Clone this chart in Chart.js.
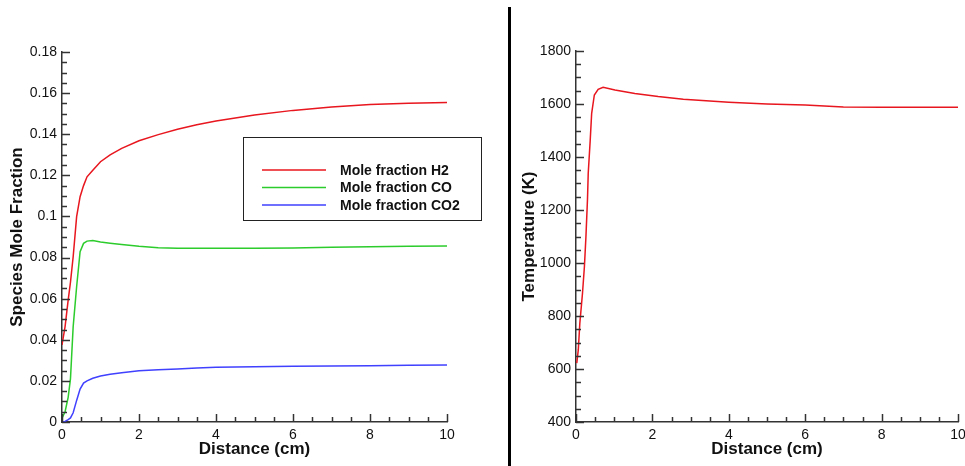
<!DOCTYPE html>
<html>
<head>
<meta charset="utf-8">
<script src="https://cdn.jsdelivr.net/npm/chart.js@4.4.0/dist/chart.umd.min.js"></script>
<style>
  html, body { margin: 0; padding: 0; background: #fff; width: 965px; height: 466px; overflow: hidden; position: relative; }
  .panel { position: absolute; top: 0; height: 466px; }
  #left { left: 0; width: 505px; }
  #right { left: 512px; width: 470px; }
  #sep { position: absolute; left: 508px; top: 7px; width: 3px; height: 459px; background: #000; }
</style>
</head>
<body>
<div class="panel" id="left"><canvas id="species"></canvas></div>
<div id="sep"></div>
<div class="panel" id="right"><canvas id="temperature"></canvas></div>
<script>
// species profiles along the reactor (distance in cm)
var distance = [0, 0.08, 0.16, 0.22, 0.29, 0.38, 0.47, 0.56, 0.65, 0.8, 1.0, 1.25, 1.55, 2.0, 2.5, 3.0, 3.5, 4.0, 5.0, 6.0, 7.0, 8.0, 9.0, 10.0];
var moleH2 = [0.0375, 0.0464, 0.0593, 0.068, 0.0804, 0.0999, 0.1096, 0.115, 0.1193, 0.1225, 0.1266, 0.13, 0.1331, 0.1368, 0.1398, 0.1424, 0.1446, 0.1464, 0.1494, 0.1516, 0.1532, 0.1544, 0.1551, 0.1554];
var moleCO = [0.0018, 0.005, 0.012, 0.021, 0.0464, 0.0658, 0.0828, 0.0869, 0.088, 0.0883, 0.0876, 0.087, 0.0864, 0.0855, 0.0848, 0.0845, 0.0845, 0.0845, 0.0845, 0.0847, 0.085, 0.0852, 0.0855, 0.0856];
var moleCO2 = [0, 0.0003, 0.0012, 0.002, 0.0045, 0.0105, 0.016, 0.0189, 0.02, 0.0213, 0.0224, 0.0232, 0.024, 0.0249, 0.0254, 0.0258, 0.0263, 0.0266, 0.0269, 0.0271, 0.0272, 0.0274, 0.0276, 0.0277];
var speciesLabels = ['Mole fraction H2', 'Mole fraction CO', 'Mole fraction CO2'];

var tempDistance = [0.02, 0.06, 0.1, 0.17, 0.22, 0.26, 0.30, 0.32, 0.37, 0.41, 0.48, 0.58, 0.71, 1.02, 1.54, 2.15, 2.81, 4.0, 5.0, 6.0, 7.0, 8.0, 9.0, 10.0];
var temperature = [622, 672, 772, 886, 986, 1099, 1238, 1338, 1458, 1565, 1634, 1655, 1663, 1653, 1640, 1628, 1618, 1607, 1600, 1596, 1589, 1588, 1588, 1588];

Chart.defaults.font.family = '"Liberation Sans", Arial, sans-serif';
Chart.defaults.color = '#111';

function points(xs, ys) {
    return xs.map(function (x, i) { return { x: x, y: ys[i] }; });
}

// tecplot style ticks, drawn inward from the axis lines
var inwardTicks = {
    id: 'inwardTicks',
    afterDraw: function (chart, args, opts) {
        var ctx = chart.ctx, area = chart.chartArea;
        ctx.save();
        ctx.strokeStyle = '#333';
        ctx.lineWidth = 1.5;
        ['x', 'y'].forEach(function (id) {
            var scale = chart.scales[id];
            var o = opts[id];
            var n = Math.round((scale.max - scale.min) / o.minor);
            for (var i = 0; i <= n; i++) {
                var v = scale.min + i * o.minor;
                var isMajor = Math.abs(v / o.major - Math.round(v / o.major)) < 1e-6;
                var len = isMajor ? 8 : 5;
                var p = Math.round(scale.getPixelForValue(v)) + 0.5;
                ctx.beginPath();
                if (id === 'x') {
                    ctx.moveTo(p, area.bottom);
                    ctx.lineTo(p, area.bottom - len);
                } else {
                    ctx.moveTo(area.left, p);
                    ctx.lineTo(area.left + len, p);
                }
                ctx.stroke();
            }
        });
        ctx.restore();
    }
};

// framed legend box sitting inside the plot
var boxLegend = {
    id: 'boxLegend',
    afterDraw: function (chart, args, opts) {
        if (!opts.show) return;
        var ctx = chart.ctx;
        ctx.save();
        ctx.strokeStyle = '#222';
        ctx.lineWidth = 1;
        ctx.strokeRect(opts.x + 0.5, opts.y + 0.5, opts.w, opts.h);
        ctx.font = 'bold 14px "Liberation Sans", Arial, sans-serif';
        ctx.fillStyle = '#111';
        ctx.textBaseline = 'middle';
        chart.data.datasets.forEach(function (ds, i) {
            var y = opts.firstRow + i * opts.rowGap;
            ctx.strokeStyle = ds.borderColor;
            ctx.lineWidth = 1.5;
            ctx.beginPath();
            ctx.moveTo(opts.lineX0, y);
            ctx.lineTo(opts.lineX1, y);
            ctx.stroke();
            ctx.fillText(ds.label, opts.textX, y + 1);
        });
        ctx.restore();
    }
};

function axisOptions(min, max, step, title, fixed, titlePad) {
    return {
        type: 'linear',
        min: min,
        max: max,
        grid: { color: 'rgba(0,0,0,0)', drawOnChartArea: false, drawTicks: false },
        border: { display: true, color: '#333', width: 1.5 },
        ticks: {
            stepSize: step, font: { size: 14 }, color: '#111', padding: 5,
            format: { useGrouping: false, minimumFractionDigits: 0, maximumFractionDigits: 3 }
        },
        title: { display: true, text: title, font: { size: 17, weight: 'bold' }, color: '#111', padding: titlePad },
        afterFit: fixed
    };
}

var lineStyle = { borderWidth: 1.5, pointRadius: 0, tension: 0, fill: false };

new Chart(document.getElementById('species'), {
    type: 'line',
    data: {
        datasets: [
            Object.assign({ label: speciesLabels[0], data: points(distance, moleH2), borderColor: '#e8161e' }, lineStyle),
            Object.assign({ label: speciesLabels[1], data: points(distance, moleCO), borderColor: '#2ccc2c' }, lineStyle),
            Object.assign({ label: speciesLabels[2], data: points(distance, moleCO2), borderColor: '#4040ff' }, lineStyle)
        ]
    },
    options: {
        responsive: true,
        maintainAspectRatio: false,
        animation: false,
        layout: { padding: { top: 52, right: 58, bottom: 0, left: 0 } },
        plugins: {
            legend: { display: false },
            tooltip: { enabled: false },
            inwardTicks: { x: { major: 2, minor: 0.5 }, y: { major: 0.02, minor: 0.005 } },
            boxLegend: { show: true, x: 243, y: 137, w: 238, h: 83, lineX0: 262, lineX1: 326, textX: 340, firstRow: 170, rowGap: 17.5 }
        },
        scales: {
            x: axisOptions(0, 10, 2, 'Distance (cm)', function (s) { s.height = 44; }, { top: 0, bottom: 6 }),
            y: axisOptions(0, 0.18, 0.02, 'Species Mole Fraction', function (s) { s.width = 62; }, { top: 7, bottom: 0 })
        }
    },
    plugins: [inwardTicks, boxLegend]
});

new Chart(document.getElementById('temperature'), {
    type: 'line',
    data: {
        datasets: [
            Object.assign({ label: 'Temperature', data: points(tempDistance, temperature), borderColor: '#e8161e' }, lineStyle)
        ]
    },
    options: {
        responsive: true,
        maintainAspectRatio: false,
        animation: false,
        layout: { padding: { top: 51, right: 24, bottom: 0, left: 0 } },
        plugins: {
            legend: { display: false },
            tooltip: { enabled: false },
            inwardTicks: { x: { major: 2, minor: 0.5 }, y: { major: 200, minor: 50 } },
            boxLegend: { show: false }
        },
        scales: {
            x: axisOptions(0, 10, 2, 'Distance (cm)', function (s) { s.height = 44; }, { top: 0, bottom: 6 }),
            y: axisOptions(400, 1800, 200, 'Temperature (K)', function (s) { s.width = 64; }, { top: 7, bottom: 0 })
        }
    },
    plugins: [inwardTicks, boxLegend]
});
</script>
</body>
</html>
